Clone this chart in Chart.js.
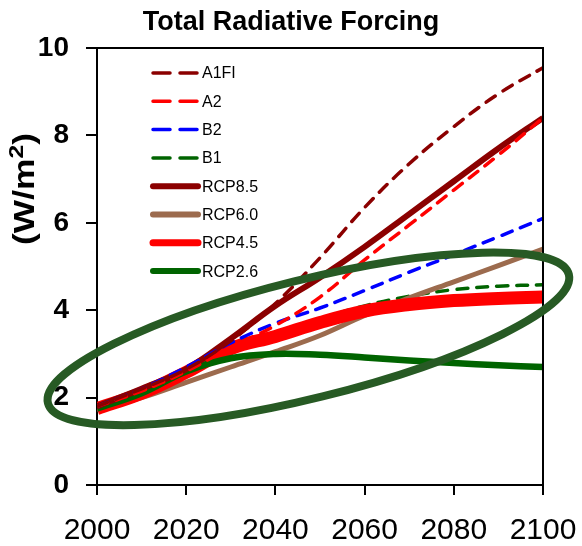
<!DOCTYPE html>
<html>
<head>
<meta charset="utf-8">
<script src="https://cdn.jsdelivr.net/npm/chart.js@4/dist/chart.umd.min.js"></script>
<style>
html,body{margin:0;padding:0;background:#fff;}
#wrap{width:582px;height:546px;position:relative;}
</style>
</head>
<body>
<div id="wrap"><canvas id="c" width="582" height="546"></canvas></div>
<script>
// ---- data ----
const years = [2000, 2010, 2020, 2030, 2040, 2050, 2060, 2070, 2080, 2090, 2100];
const a1fi  = [1.8, 2.2, 2.65, 3.3, 4.15, 5.2, 6.35, 7.35, 8.2, 8.95, 9.55];
const a2    = [1.8, 2.15, 2.6, 3.15, 3.65, 4.3, 5.15, 5.95, 6.75, 7.55, 8.4];
const b2    = [1.8, 2.2, 2.7, 3.25, 3.7, 4.05, 4.45, 4.87, 5.27, 5.68, 6.1];
const b1    = [1.8, 2.15, 2.6, 3.05, 3.45, 3.8, 4.1, 4.32, 4.47, 4.55, 4.58];
const rcp85 = [1.8, 2.2, 2.65, 3.35, 4.1, 4.75, 5.45, 6.2, 6.95, 7.7, 8.4];
const rcp60 = [1.72, 2.0, 2.35, 2.7, 3.05, 3.42, 3.88, 4.28, 4.65, 5.02, 5.4];
const rcp45 = [1.75, 2.1, 2.58, 3.12, 3.4, 3.72, 3.98, 4.13, 4.22, 4.27, 4.3];
const rcp26 = [1.75, 2.1, 2.6, 2.9, 3.0, 2.98, 2.92, 2.85, 2.79, 2.74, 2.7];
const seriesLabels = ['A1FI', 'A2', 'B2', 'B1', 'RCP8.5', 'RCP6.0', 'RCP4.5', 'RCP2.6'];
const xTicks = [2000, 2020, 2040, 2060, 2080, 2100];
const yTicks = [0, 2, 4, 6, 8, 10];
const titleText = 'Total Radiative Forcing';
const yTitleMain = '(W/m', yTitleSup = '2', yTitleEnd = ')';
// highlight ellipse (data units): centre, end of major axis, minor/major ratio
const ellipseCenter = {x: 2047.4, y: 3.345};
const ellipseMajorEnd = {x: 2105.8, y: 4.817};
const ellipseRatio = 0.221;

const FONT = "'Liberation Sans', Arial, sans-serif";
const DR = '#8B0000', RED = '#FF0000', BLUE = '#0000FF', GREEN = '#006400', BROWN = '#9C6B4E';

function pts(vals){ return years.map((y,i)=>({x:y, y:vals[i]})); }
function ds(label, vals, color, width, dashed, order){
  return {
    label, data: pts(vals), borderColor: color, backgroundColor: color,
    borderWidth: width, borderDash: dashed ? [11, 9] : [],
    borderCapStyle: dashed ? 'round' : 'butt', borderJoinStyle: 'round',
    pointRadius: 0, tension: 0.4, fill: false, order,
    _dashed: dashed
  };
}
const datasets = [
  ds(seriesLabels[0], a1fi, DR, 3.5, true, 0),
  ds(seriesLabels[1], a2, RED, 3.5, true, 1),
  ds(seriesLabels[2], b2, BLUE, 3.5, true, 2),
  ds(seriesLabels[3], b1, GREEN, 3.5, true, 7),
  ds(seriesLabels[4], rcp85, DR, 6, false, 3),
  ds(seriesLabels[5], rcp60, BROWN, 5, false, 6),
  ds(seriesLabels[6], rcp45, RED, 13, false, 5),
  ds(seriesLabels[7], rcp26, GREEN, 6.5, false, 4)
];
const legendWidths = [3.5, 3.5, 3.5, 3.5, 6, 6, 7, 6];

const decor = {
  id: 'decor',
  afterDatasetsDraw(chart){
    const {ctx, chartArea: a, scales: {x, y}} = chart;
    ctx.save();
    ctx.strokeStyle = '#000'; ctx.lineWidth = 2;
    ctx.beginPath();
    ctx.moveTo(a.left, a.top); ctx.lineTo(a.right, a.top); ctx.lineTo(a.right, a.bottom);
    ctx.stroke();
    ctx.restore();
    const cx = x.getPixelForValue(ellipseCenter.x), cy = y.getPixelForValue(ellipseCenter.y);
    const ex = x.getPixelForValue(ellipseMajorEnd.x), ey = y.getPixelForValue(ellipseMajorEnd.y);
    const rx = Math.hypot(ex - cx, ey - cy), rot = Math.atan2(ey - cy, ex - cx);
    ctx.save();
    ctx.strokeStyle = '#275A24'; ctx.lineWidth = 8;
    ctx.beginPath();
    ctx.ellipse(cx, cy, rx, rx * ellipseRatio, rot, 0, Math.PI * 2);
    ctx.stroke();
    ctx.restore();
  },
  afterDraw(chart){
    const {ctx, chartArea: a} = chart;
    ctx.save();
    ctx.fillStyle = '#000';
    ctx.font = "bold 27px " + FONT;
    ctx.textAlign = 'center'; ctx.textBaseline = 'middle';
    ctx.fillText(titleText, 291, 23);
    // y title with superscript, drawn rotated
    ctx.save();
    ctx.translate(23, a.top + 141);
    ctx.rotate(-Math.PI/2);
    ctx.scale(1.18, 1);
    ctx.textAlign = 'left'; ctx.textBaseline = 'alphabetic';
    const big = "bold 30px " + FONT, small = "bold 21px " + FONT;
    ctx.font = big; const w1 = ctx.measureText(yTitleMain).width, w3 = ctx.measureText(yTitleEnd).width;
    ctx.font = small; const w2 = ctx.measureText(yTitleSup).width;
    let sx = -(w1 + w2 + w3) / 2; const base = 11;
    ctx.font = big; ctx.fillText(yTitleMain, sx, base); sx += w1;
    ctx.font = small; ctx.fillText(yTitleSup, sx, base - 11); sx += w2;
    ctx.font = big; ctx.fillText(yTitleEnd, sx, base);
    ctx.restore();
    // legend
    const lx0 = a.left + 56, lx1 = a.left + 101, tx = a.left + 105;
    ctx.font = "16px " + FONT;
    ctx.textAlign = 'left'; ctx.textBaseline = 'middle';
    chart.data.datasets.forEach((d, i) => {
      const yy = a.top + 25 + i * 28.3;
      ctx.strokeStyle = d.borderColor;
      ctx.lineWidth = legendWidths[i];
      ctx.lineCap = 'round';
      ctx.setLineDash(d._dashed ? [17, 10] : []);
      ctx.beginPath(); ctx.moveTo(lx0, yy); ctx.lineTo(lx1, yy); ctx.stroke();
      ctx.setLineDash([]);
      ctx.fillStyle = '#000';
      ctx.fillText(d.label, tx, yy + 1);
    });
    ctx.restore();
  }
};

new Chart(document.getElementById('c'), {
  type: 'line',
  data: { datasets },
  options: {
    responsive: false, animation: false,
    layout: { padding: { top: 48, right: 39, left: 0, bottom: 0 } },
    plugins: { legend: { display: false }, title: { display: false }, tooltip: { enabled: false } },
    scales: {
      x: {
        type: 'linear', min: 2000, max: 2100,
        afterBuildTicks(s){ s.ticks = xTicks.map(v => ({value: v})); },
        afterFit(s){ s.height = 61; s.paddingLeft = 30; s.paddingRight = 30; },
        border: { display: true, color: '#000', width: 2 },
        grid: { drawOnChartArea: false, drawTicks: true, tickLength: 10, color: '#000', lineWidth: 2 },
        ticks: { color: '#000', font: { family: FONT, size: 30 }, padding: 18, maxRotation: 0,
                 callback: v => String(v) }
      },
      y: {
        type: 'linear', min: 0, max: 10,
        afterBuildTicks(s){ s.ticks = yTicks.map(v => ({value: v})); },
        afterFit(s){ s.width = 97; },
        border: { display: true, color: '#000', width: 2 },
        grid: { drawOnChartArea: false, drawTicks: true, tickLength: 11, color: '#000', lineWidth: 2 },
        ticks: { color: '#000', font: { family: FONT, size: 28, weight: 'bold' }, padding: 17 }
      }
    }
  },
  plugins: [decor]
});
</script>
</body>
</html>
